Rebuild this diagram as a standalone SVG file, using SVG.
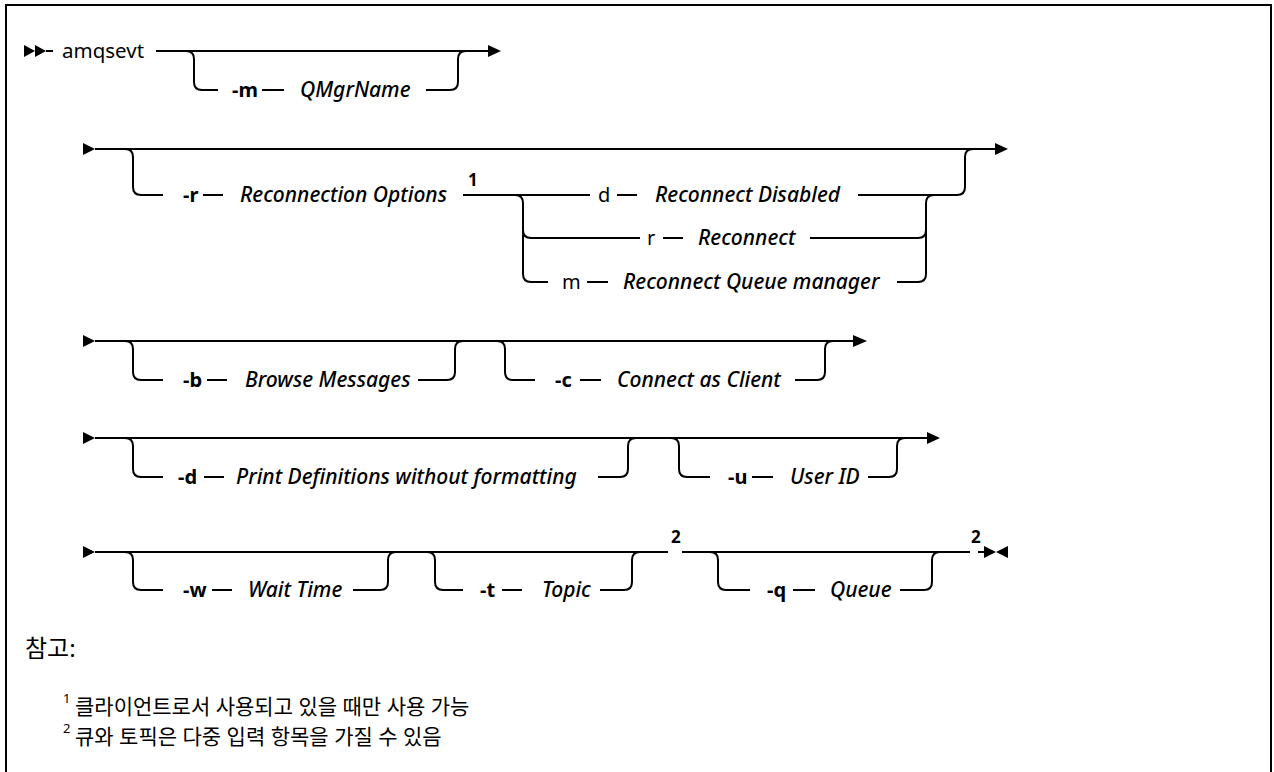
<svg xmlns="http://www.w3.org/2000/svg" width="1274" height="772" viewBox="0 0 1274 772">
<style>
.ln{fill:none;stroke:#000;stroke-width:2}
.ah{fill:#000;stroke:none}
text{font-family:"Noto Sans","Liberation Sans",sans-serif;font-size:20px;fill:#000}
.kw{font-weight:400}
.cmd{font-size:20.5px}
.fl{font-weight:700}
.var{font-style:italic;font-weight:500;font-size:21px}
.sup{font-size:17px;font-weight:700}
.note{font-family:"Noto Sans","Noto Sans CJK KR",sans-serif;font-size:21px}
.head{font-size:24px}
.nsup{font-family:"Noto Sans",sans-serif;font-size:13px}
</style>
<rect x="6" y="5" width="1265" height="800" fill="#fff" stroke="#000" stroke-width="2"/>

<g id="connectors">
  <!-- Row 1 -->
  <polygon class="ah" points="24,45 35,51 24,57"/>
  <polygon class="ah" points="35,45 46,51 35,57"/>
  <path class="ln" d="M46,51 H53"/>
  <path class="ln" d="M156,51 H488"/>
  <polygon class="ah" points="488,45 501,51 488,57"/>
  <path class="ln" d="M186,51 q8,0 8,8 V82 q0,8 8,8 H218"/>
  <path class="ln" d="M262,90 H284"/>
  <path class="ln" d="M426,90 H450 q8,0 8,-8 V59 q0,-8 8,-8"/>

  <!-- Row 2 -->
  <polygon class="ah" points="83,143 95,149 83,155"/>
  <path class="ln" d="M95,149 H995"/>
  <polygon class="ah" points="995,143 1008,149 995,155"/>
  <path class="ln" d="M125,149 q8,0 8,8 V187 q0,8 8,8 H163"/>
  <path class="ln" d="M203,195 H223"/>
  <path class="ln" d="M463,195 H590"/>
  <path class="ln" d="M515,195 q8,0 8,8 V274 q0,8 8,8 H548"/>
  <path class="ln" d="M523,230 q0,8 8,8 H640"/>
  <path class="ln" d="M617,195 H637"/>
  <path class="ln" d="M858,195 H957 q8,0 8,-8 V157 q0,-8 8,-8"/>
  <path class="ln" d="M934,195 q-8,0 -8,8 V274 q0,8 -8,8 H897"/>
  <path class="ln" d="M663,238 H683"/>
  <path class="ln" d="M810,238 H918 q8,0 8,-8"/>
  <path class="ln" d="M587,282 H608"/>

  <!-- Row 3 -->
  <polygon class="ah" points="83,335 95,341 83,347"/>
  <path class="ln" d="M95,341 H853"/>
  <polygon class="ah" points="853,335 867,341 853,347"/>
  <path class="ln" d="M125,341 q8,0 8,8 V372 q0,8 8,8 H163"/>
  <path class="ln" d="M207,380 H227"/>
  <path class="ln" d="M418,380 H447 q8,0 8,-8 V349 q0,-8 8,-8"/>
  <path class="ln" d="M497,341 q8,0 8,8 V372 q0,8 8,8 H535"/>
  <path class="ln" d="M580,380 H601"/>
  <path class="ln" d="M795,380 H817 q8,0 8,-8 V349 q0,-8 8,-8"/>

  <!-- Row 4 -->
  <polygon class="ah" points="83,432 95,438 83,444"/>
  <path class="ln" d="M95,438 H927"/>
  <polygon class="ah" points="927,432 940,438 927,444"/>
  <path class="ln" d="M125,438 q8,0 8,8 V469 q0,8 8,8 H163"/>
  <path class="ln" d="M204,477 H224"/>
  <path class="ln" d="M598,477 H620 q8,0 8,-8 V446 q0,-8 8,-8"/>
  <path class="ln" d="M671,438 q8,0 8,8 V469 q0,8 8,8 H710"/>
  <path class="ln" d="M752,477 H773"/>
  <path class="ln" d="M868,477 H889 q8,0 8,-8 V446 q0,-8 8,-8"/>

  <!-- Row 5 -->
  <polygon class="ah" points="83,546 95,552 83,558"/>
  <path class="ln" d="M95,552 H668"/>
  <path class="ln" d="M682,552 H970"/>
  <path class="ln" d="M978,552 H985"/>
  <polygon class="ah" points="984,546 996,552 984,558"/>
  <polygon class="ah" points="1008,546 996,552 1008,558"/>
  <path class="ln" d="M125,552 q8,0 8,8 V582 q0,8 8,8 H163"/>
  <path class="ln" d="M212,590 H232"/>
  <path class="ln" d="M353,590 H380 q8,0 8,-8 V560 q0,-8 8,-8"/>
  <path class="ln" d="M427,552 q8,0 8,8 V582 q0,8 8,8 H463"/>
  <path class="ln" d="M502,590 H522"/>
  <path class="ln" d="M600,590 H624 q8,0 8,-8 V560 q0,-8 8,-8"/>
  <path class="ln" d="M710,552 q8,0 8,8 V582 q0,8 8,8 H750"/>
  <path class="ln" d="M793,590 H815"/>
  <path class="ln" d="M900,590 H924 q8,0 8,-8 V560 q0,-8 8,-8"/>
</g>

<g id="n-amqsevt"><text class="kw cmd" x="62" y="58">amqsevt</text></g>
<g id="n-m"><text class="fl" x="232" y="97">-m</text><text class="var" x="300" y="97">QMgrName</text></g>

<g id="n-r"><text class="fl" x="183" y="202">-r</text><text class="var" x="240" y="202">Reconnection Options</text><text class="sup" x="468" y="186">1</text></g>
<g id="n-rd"><text class="kw" x="598" y="202">d</text><text class="var" x="655" y="202">Reconnect Disabled</text></g>
<g id="n-rr"><text class="kw" x="647" y="245">r</text><text class="var" x="698" y="245">Reconnect</text></g>
<g id="n-rm"><text class="kw" x="562" y="289">m</text><text class="var" x="623" y="289">Reconnect Queue manager</text></g>

<g id="n-b"><text class="fl" x="183" y="387">-b</text><text class="var" x="245" y="387">Browse Messages</text></g>
<g id="n-c"><text class="fl" x="555" y="387">-c</text><text class="var" x="617" y="387">Connect as Client</text></g>

<g id="n-d"><text class="fl" x="178" y="484">-d</text><text class="var" x="236" y="484">Print Definitions without formatting</text></g>
<g id="n-u"><text class="fl" x="728" y="484">-u</text><text class="var" x="790" y="484">User ID</text></g>

<g id="n-w"><text class="fl" x="183" y="597">-w</text><text class="var" x="248" y="597">Wait Time</text></g>
<g id="n-t"><text class="fl" x="480" y="597">-t</text><text class="var" x="542" y="597">Topic</text><text class="sup" x="671" y="543">2</text></g>
<g id="n-q"><text class="fl" x="767" y="597">-q</text><text class="var" x="830" y="597">Queue</text><text class="sup" x="971" y="543">2</text></g>

<g id="notes">
  <text class="note head" x="25" y="657">참고:</text>
  <text class="nsup" x="63" y="703">1</text>
  <text class="note" x="75" y="714">클라이언트로서 사용되고 있을 때만 사용 가능</text>
  <text class="nsup" x="63" y="733">2</text>
  <text class="note" x="75" y="744">큐와 토픽은 다중 입력 항목을 가질 수 있음</text>
</g>
</svg>
